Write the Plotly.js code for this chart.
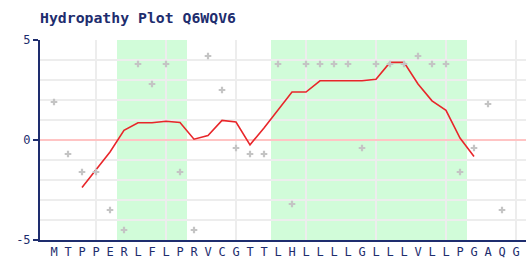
<!DOCTYPE html>
<html>
<head>
<meta charset="utf-8">
<script src="https://cdn.plot.ly/plotly-3.0.1.min.js"></script>
<style>html,body{margin:0;padding:0;background:#fff;}#chart{width:526px;height:260px;}</style>
</head>
<body>
<div id="chart"></div>
<script>
// Residue sequence (x tick labels)
const residues = ["M","T","P","P","E","R","L","F","L","P","R","V","C","G","T","T","L","H","L","L","L","L","G","L","L","L","V","L","L","P","G","A","Q","G"];
// Per-residue hydropathy values (grey crosses); last residue not plotted
const residueScores = [1.9,-0.7,-1.6,-1.6,-3.5,-4.5,3.8,2.8,3.8,-1.6,-4.5,4.2,2.5,-0.4,-0.7,-0.7,3.8,-3.2,3.8,3.8,3.8,3.8,-0.4,3.8,3.8,3.8,4.2,3.8,3.8,-1.6,-0.4,1.8,-3.5,null];
// Smoothed hydropathy curve (red line), positions 3..31
const smoothPos = [3,4,5,6,7,8,9,10,11,12,13,14,15,16,17,18,19,20,21,22,23,24,25,26,27,28,29,30,31];
const smoothVals = [-2.38,-1.48,-0.6,0.48,0.86,0.86,0.94,0.88,0.04,0.22,0.98,0.9,-0.24,0.6,1.5,2.4,2.4,2.96,2.96,2.96,2.96,3.04,3.88,3.88,2.8,1.96,1.48,0.1,-0.82];
// Predicted hydrophobic (transmembrane) regions, residue positions
const regionStart = [6, 17];
const regionEnd = [10, 30];

const positions = residues.map((r, i) => i + 1);
const navy = "#1e2d6e";
const grid = "#ededed";

const shapes = regionStart.map((s, i) => ({
  type: "rect", xref: "x", yref: "paper", x0: s - 0.5, x1: regionEnd[i] + 0.5, y0: 0, y1: 1,
  fillcolor: "#d1fcd9", line: {width: 0}, layer: "below"
}));

const traces = [
  {x: positions, y: residueScores, type: "scatter", mode: "markers", xaxis: "x2", yaxis: "y",
   marker: {symbol: "cross", size: 5.5, color: "#c4c4c4", line: {width: 0}}, hoverinfo: "skip"},
  {x: smoothPos, y: smoothVals, type: "scatter", mode: "lines",
   line: {color: "#e8262a", width: 1.6}, hoverinfo: "skip"}
];

const xrange = [0, 34.714];
const layout = {
  width: 526, height: 260,
  margin: {l: 40, r: 0, t: 40, b: 20},
  paper_bgcolor: "#ffffff", plot_bgcolor: "#ffffff",
  showlegend: false,
  title: {text: "Hydropathy Plot Q6WQV6", x: 40/526, xanchor: "left", xref: "container",
          y: 1 - 18/260, yanchor: "middle", yref: "container",
          font: {family: "DejaVu Sans Mono", size: 14.8, color: navy, weight: "bold"}},
  xaxis: {range: xrange, tickvals: positions, ticktext: residues, showgrid: false, zeroline: false,
          showline: true, linecolor: navy, linewidth: 2, ticks: "", tickfont: {family: "DejaVu Sans Mono", size: 12, color: navy},
          ticklabelstandoff: 0, fixedrange: true},
  xaxis2: {range: xrange, overlaying: "x", anchor: "y", side: "bottom", tick0: 4, dtick: 5, showgrid: true, gridcolor: grid, gridwidth: 1.5,
           showticklabels: false, ticks: "", zeroline: false, showline: false},
  yaxis: {range: [-5, 5], tickvals: [-5, 0, 5], ticktext: ["-5", "0", "5"], showgrid: true, gridcolor: grid, gridwidth: 1.5,
          minor: {dtick: 1, tick0: 0, showgrid: true, gridcolor: grid, gridwidth: 1.5, ticks: ""},
          zeroline: true, zerolinecolor: "#ffc4c4", zerolinewidth: 1.5,
          showline: true, linecolor: navy, linewidth: 2, ticks: "outside", ticklen: 5, tickcolor: navy, tickwidth: 1.5,
          tickfont: {family: "DejaVu Sans Mono", size: 12, color: navy}},
  shapes: shapes
};

Plotly.newPlot("chart", traces, layout, {displayModeBar: false, staticPlot: true});
</script>
</body>
</html>
